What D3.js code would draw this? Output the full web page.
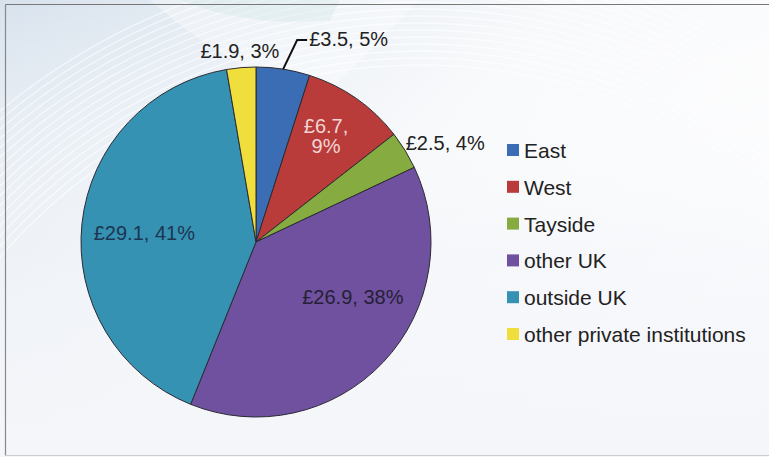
<!DOCTYPE html>
<html>
<head>
<meta charset="utf-8">
<script src="https://cdn.jsdelivr.net/npm/d3@7"></script>
<style>
  html, body { margin: 0; padding: 0; background: #ffffff; }
  svg { display: block; font-family: "Liberation Sans", Arial, sans-serif; }
</style>
</head>
<body>
<svg id="chart" width="769" height="457"></svg>
<script>
// ---- data ----
const categories = ["East", "West", "Tayside", "other UK", "outside UK", "other private institutions"];
const values = [3.5, 6.7, 2.5, 26.9, 29.1, 1.9];
const percents = [5, 9, 4, 38, 41, 3];
const sliceColors = ["#3a6db4", "#b93c3a", "#86ab40", "#6f519f", "#3592b3", "#f0de3c"];

const W = 769, H = 457;
const svg = d3.select("#chart");
const defs = svg.append("defs");

// ---- background ----
const bg = defs.append("linearGradient").attr("id", "bg")
  .attr("x1", "0").attr("y1", "0").attr("x2", "1").attr("y2", "0.6");
bg.append("stop").attr("offset", "0").attr("stop-color", "#d8e2ed");
bg.append("stop").attr("offset", "0.25").attr("stop-color", "#e6edf4");
bg.append("stop").attr("offset", "0.55").attr("stop-color", "#f8f9fb");
bg.append("stop").attr("offset", "1").attr("stop-color", "#ffffff");
svg.append("rect").attr("width", W).attr("height", H).attr("fill", "url(#bg)");

const fade = defs.append("linearGradient").attr("id", "fade")
  .attr("x1", "0").attr("y1", "0").attr("x2", "0").attr("y2", "1");
fade.append("stop").attr("offset", "0").attr("stop-color", "#ffffff").attr("stop-opacity", 0);
fade.append("stop").attr("offset", "0.55").attr("stop-color", "#f3f5f9").attr("stop-opacity", 0.6);
fade.append("stop").attr("offset", "1").attr("stop-color", "#f4f6fa").attr("stop-opacity", 1);
svg.append("rect").attr("width", W).attr("height", H).attr("fill", "url(#fade)");

// faint decorative arcs in top-left
const deco = svg.append("g").attr("fill", "none").attr("stroke", "#ffffff").attr("stroke-opacity", 0.6);
d3.range(0, 16).forEach(i => {
  deco.append("circle").attr("cx", 420).attr("cy", 620).attr("r", 555 + i * 7)
    .attr("stroke-width", 1.3);
});
// light swoosh band
svg.append("path")
  .attr("d", "M150,0 C220,60 260,80 330,90 L420,0 Z")
  .attr("fill", "#ffffff").attr("opacity", 0.35);
svg.append("path")
  .attr("d", "M180,0 C230,20 280,25 330,20 L340,0 Z")
  .attr("fill", "#cfe6e6").attr("opacity", 0.35);

// frame
svg.append("line").attr("x1", 5.5).attr("y1", 4.5).attr("x2", W).attr("y2", 4.5)
  .attr("stroke", "#777").attr("stroke-width", 1.2);
svg.append("line").attr("x1", 5.5).attr("y1", 4.5).attr("x2", 5.5).attr("y2", 455.5)
  .attr("stroke", "#888").attr("stroke-width", 1.2);
svg.append("line").attr("x1", 5.5).attr("y1", 455.5).attr("x2", W).attr("y2", 455.5)
  .attr("stroke", "#ccc").attr("stroke-width", 1.2);

// ---- pie ----
const cx = 256, cy = 242, R = 175;
const data = categories.map((c, i) => ({ name: c, value: values[i], pct: percents[i], color: sliceColors[i] }));
const pie = d3.pie().value(d => d.value).sort(null);
const arcs = pie(data);
const arc = d3.arc().innerRadius(0).outerRadius(R);

const g = svg.append("g").attr("transform", `translate(${cx},${cy})`);
g.selectAll("path.slice").data(arcs).join("path")
  .attr("class", "slice")
  .attr("d", arc)
  .attr("fill", d => d.data.color)
  .attr("stroke", "#2b2b33")
  .attr("stroke-width", 1)
  .attr("stroke-linejoin", "round");

const fmt = d => `£${d.data.value.toFixed(1)}, ${d.data.pct}%`;
const polar = (a, r) => [r * Math.sin(a), -r * Math.cos(a)];
const mid = d => (d.startAngle + d.endAngle) / 2;
const fs = 20;

// East: outside with leader
{
  const d = arcs[0];
  const p0 = polar(mid(d), R);
  const p1 = [p0[0] + 14, p0[1] - 29];
  const p2 = [p1[0] + 10, p1[1]];
  g.append("path").attr("d", d3.line()([p0, p1, p2]))
    .attr("fill", "none").attr("stroke", "#111").attr("stroke-width", 2);
  g.append("text").attr("x", p2[0] + 2).attr("y", p2[1] + 6)
    .attr("font-size", fs).attr("fill", "#222").text(fmt(d));
}
// West: two lines inside
{
  const d = arcs[1];
  const p = polar(mid(d) - 0.02, R * 0.72);
  const t = g.append("text").attr("text-anchor", "middle").attr("font-size", fs)
    .attr("fill", "#f3d6d4");
  t.append("tspan").attr("x", p[0]).attr("y", p[1] - 4).text(`£${d.data.value.toFixed(1)},`);
  t.append("tspan").attr("x", p[0]).attr("y", p[1] + 16).text(`${d.data.pct}%`);
}
// Tayside: outside to the right
{
  const d = arcs[2];
  const p = polar(mid(d), R + 2);
  g.append("text").attr("x", p[0] - 1).attr("y", p[1] + 1)
    .attr("font-size", fs).attr("fill", "#222").text(fmt(d));
}
// other UK: inside
{
  const d = arcs[3];
  const p = polar(mid(d) - 0.23, R * 0.64);
  g.append("text").attr("x", p[0]).attr("y", p[1] + 6).attr("text-anchor", "middle")
    .attr("font-size", fs).attr("fill", "#262036").text(fmt(d));
}
// outside UK: inside
{
  const d = arcs[4];
  const p = polar(mid(d) - 0.03, R * 0.64);
  g.append("text").attr("x", p[0]).attr("y", p[1] + 7).attr("text-anchor", "middle")
    .attr("font-size", fs).attr("fill", "#1d3550").text(fmt(d));
}
// other private: outside above
{
  const d = arcs[5];
  const p = polar(mid(d), R + 16);
  g.append("text").attr("x", p[0]).attr("y", p[1] + 6).attr("text-anchor", "middle")
    .attr("font-size", fs).attr("fill", "#222").text(fmt(d));
}

// ---- legend ----
const legY = d3.scalePoint().domain(categories).range([150, 334]);
const leg = svg.append("g");
const items = leg.selectAll("g").data(data).join("g")
  .attr("transform", d => `translate(507,${legY(d.name)})`);
items.append("rect").attr("x", 0).attr("y", -6).attr("width", 12).attr("height", 12)
  .attr("fill", d => d.color);
items.append("text").attr("x", 17).attr("y", 8)
  .attr("font-size", 21).attr("fill", "#222").text(d => d.name);
</script>
</body>
</html>
